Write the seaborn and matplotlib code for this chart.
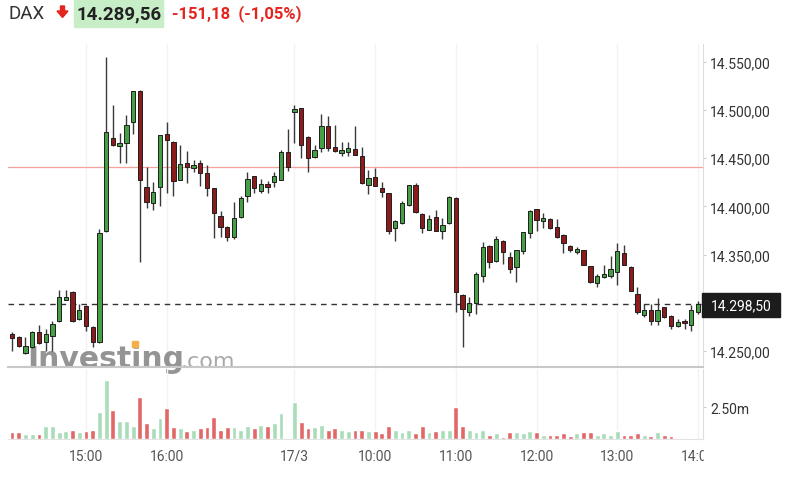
import matplotlib.pyplot as plt
import matplotlib.patches as mpatches
import seaborn as sns
import pandas as pd

# 5-minute DAX candles, 16/3 14:05 .. 17:30, then 17/3 09:00 .. 13:55
open_ = [14267.6, 14264.8, 14247.5, 14253.7, 14270.0, 14258.9, 14265.8, 14280.7, 14303.2, 14311.5,
         14283.1, 14297.0, 14275.2, 14259.6, 14374.1, 14470.9, 14462.9, 14465.4, 14487.1, 14520.0,
         14420.4, 14403.1, 14419.7, 14474.7, 14467.1, 14427.7, 14445.0, 14439.4, 14445.0, 14434.6,
         14419.0, 14390.3, 14378.9, 14368.5, 14388.6, 14411.1, 14431.1, 14416.3, 14423.2, 14424.9,
         14427.7, 14456.7, 14498.2, 14502.0, 14472.3, 14450.8, 14460.2, 14483.7, 14461.9, 14455.0,
         14456.0, 14459.5, 14452.6, 14422.5, 14430.8, 14419.0, 14413.8, 14377.2, 14382.4, 14401.7,
         14422.1, 14392.1, 14375.8, 14388.6, 14374.8, 14382.4, 14408.7, 14308.4, 14290.0, 14299.4,
         14328.1, 14359.2, 14343.6, 14364.4, 14347.1, 14336.7, 14353.3, 14372.0, 14397.2, 14384.8,
         14386.9, 14378.9, 14370.6, 14359.2, 14352.3, 14354.7, 14337.8, 14320.1, 14326.4, 14328.1,
         14331.5, 14351.6, 14337.4, 14309.1, 14287.3, 14292.5, 14281.4, 14295.2, 14286.6, 14276.2,
         14281.4, 14277.2, 14290.0]
high = [14270.0, 14265.5, 14264.1, 14270.5, 14277.2, 14272.8, 14281.4, 14313.6, 14313.6, 14312.0,
        14298.7, 14297.5, 14275.7, 14376.5, 14554.6, 14505.1, 14475.7, 14494.8, 14519.8, 14520.5,
        14440.5, 14425.6, 14474.2, 14487.1, 14467.6, 14463.6, 14457.1, 14448.4, 14448.4, 14442.9,
        14419.5, 14394.8, 14379.4, 14404.2, 14411.1, 14435.3, 14431.6, 14428.4, 14426.6, 14435.3,
        14458.8, 14480.2, 14505.1, 14502.5, 14472.8, 14463.6, 14495.8, 14493.4, 14484.4, 14466.4,
        14466.4, 14483.0, 14461.2, 14437.7, 14439.4, 14424.9, 14414.3, 14385.6, 14405.9, 14422.6,
        14423.9, 14392.6, 14391.4, 14396.6, 14387.6, 14410.5, 14409.2, 14308.9, 14305.6, 14331.5,
        14362.7, 14359.7, 14368.9, 14364.9, 14352.3, 14355.2, 14373.5, 14396.0, 14397.7, 14393.1,
        14387.4, 14386.9, 14371.1, 14359.7, 14357.5, 14355.2, 14338.3, 14329.8, 14339.1, 14348.1,
        14361.6, 14359.9, 14337.9, 14316.0, 14298.7, 14298.7, 14304.9, 14295.7, 14287.1, 14283.1,
        14283.1, 14297.7, 14302.1]
low = [14250.3, 14254.5, 14247.0, 14253.0, 14257.5, 14250.3, 14250.3, 14280.0, 14302.5, 14280.4,
       14282.5, 14271.0, 14253.7, 14257.9, 14373.5, 14463.0, 14445.0, 14445.0, 14475.0, 14342.6,
       14398.3, 14396.6, 14400.7, 14413.8, 14411.1, 14427.2, 14424.2, 14436.0, 14421.4, 14411.1,
       14366.8, 14368.5, 14364.4, 14366.1, 14388.0, 14404.8, 14413.5, 14413.5, 14413.5, 14420.4,
       14427.2, 14437.0, 14465.4, 14450.1, 14436.0, 14450.3, 14456.0, 14457.8, 14456.0, 14452.6,
       14451.9, 14453.1, 14423.4, 14412.8, 14420.9, 14410.0, 14371.3, 14364.4, 14382.0, 14400.7,
       14393.3, 14372.0, 14375.3, 14374.3, 14366.1, 14381.9, 14290.7, 14253.7, 14286.6, 14288.3,
       14321.9, 14335.7, 14341.9, 14340.2, 14330.8, 14321.9, 14350.6, 14367.2, 14374.8, 14377.5,
       14376.7, 14367.3, 14351.6, 14352.3, 14350.6, 14339.0, 14320.7, 14316.7, 14325.3, 14325.3,
       14318.7, 14339.0, 14312.0, 14288.3, 14284.9, 14277.2, 14277.2, 14284.4, 14272.8, 14274.5,
       14272.8, 14271.0, 14288.3]
close = [14263.1, 14255.5, 14255.5, 14270.0, 14258.2, 14267.2, 14277.9, 14306.3, 14306.3, 14281.4,
         14292.5, 14276.2, 14258.9, 14372.0, 14477.5, 14463.6, 14465.7, 14484.4, 14519.3, 14427.7,
         14404.2, 14415.2, 14473.7, 14469.2, 14425.9, 14443.9, 14440.5, 14442.5, 14434.2, 14418.7,
         14392.7, 14378.2, 14367.8, 14387.9, 14409.0, 14428.4, 14418.7, 14423.2, 14419.7, 14431.1,
         14456.7, 14441.2, 14501.0, 14464.0, 14450.1, 14458.4, 14483.0, 14460.2, 14457.8, 14458.4,
         14460.5, 14453.6, 14423.9, 14429.1, 14421.4, 14414.5, 14374.1, 14385.1, 14403.5, 14422.1,
         14393.8, 14377.5, 14386.9, 14374.8, 14380.6, 14410.0, 14310.8, 14293.5, 14299.4, 14329.8,
         14358.2, 14342.6, 14366.1, 14352.3, 14335.0, 14354.7, 14373.0, 14395.5, 14386.2, 14387.9,
         14377.2, 14367.8, 14361.6, 14354.7, 14355.7, 14339.5, 14321.2, 14328.1, 14329.8, 14335.0,
         14353.3, 14339.5, 14312.5, 14290.0, 14292.5, 14281.4, 14292.5, 14284.9, 14276.2, 14280.4,
         14278.6, 14292.5, 14298.5]
volume_m = [0.53, 0.53, 0.42, 0.42, 0.42, 1.00, 1.00, 0.53, 0.63, 0.74,
            0.53, 0.63, 0.74, 2.11, 4.68, 2.32, 1.42, 1.42, 1.05, 3.29,
            1.24, 0.84, 1.63, 2.42, 0.92, 0.84, 0.63, 0.71, 0.84, 0.92,
            1.71, 0.74, 0.92, 0.92, 0.74, 1.03, 0.84, 1.13, 1.03, 1.26,
            2.03, 0.08, 2.89, 1.32, 0.84, 0.92, 1.13, 0.74, 0.84, 0.74,
            0.63, 0.74, 0.74, 0.63, 0.63, 0.45, 1.03, 0.74, 0.53, 0.74,
            0.45, 1.03, 0.53, 0.63, 0.71, 0.74, 2.50, 1.03, 0.74, 0.53,
            0.74, 0.34, 0.45, 0.13, 0.53, 0.53, 0.45, 0.63, 0.53, 0.32,
            0.32, 0.32, 0.45, 0.24, 0.45, 0.53, 0.53, 0.34, 0.45, 0.32,
            0.63, 0.34, 0.34, 0.45, 0.34, 0.24, 0.53, 0.34, 0.24, 0.05,
            0.0, 0.0, 0.0]

tick_pos = [11, 23, 42, 54, 66, 78, 90, 102]
tick_labels = ['15:00', '16:00', '17/3', '10:00', '11:00', '12:00', '13:00', '14:00']
price_ticks = [14250, 14350, 14400, 14450, 14500, 14550]
prev_close = 14440.74
last_price = 14289.56
change = -151.18
change_pct = -1.05


def eu(v):
    return f"{v:,.2f}".replace(',', ' ').replace('.', ',').replace(' ', '.')


sns.set_style('white')
plt.rcParams['font.family'] = ['Roboto', 'DejaVu Sans']

W, H = 791, 485
fig = plt.figure(figsize=(W / 100, H / 100), dpi=100)


def fx(x):
    return x / W


def fy(y):
    return 1 - y / H


ax = fig.add_axes([fx(8), fy(368), (703 - 8) / W, (368 - 45) / H])
vax = fig.add_axes([fx(8), fy(440), (703 - 8) / W, (440 - 370) / H], facecolor='none')

idx = list(range(len(open_)))
up = [c >= o for o, c in zip(open_, close)]

# faint hour grid
for p in tick_pos:
    ax.axvline(p, color='#f3f3f3', lw=1, zorder=0)
    vax.axvline(p, color='#f3f3f3', lw=1, zorder=0)

ax.axhline(prev_close, color='#f3a29c', lw=0.9, zorder=1)
ax.axhline(close[-1], color='#333333', lw=1, ls=(0, (4, 3.5)), zorder=1)

# candles
ax.vlines(idx, low, high, color='#3a3a3a', lw=1, zorder=2)
bottoms = [min(o, c) for o, c in zip(open_, close)]
heights = [max(abs(c - o), 0.9) for o, c in zip(open_, close)]
ax.bar(idx, heights, bottom=bottoms, width=0.64,
       color=['#45a045' if u else '#8c1b1b' for u in up],
       edgecolor='#1e1e1e', linewidth=0.7, zorder=3)

# volume
df = pd.DataFrame({'idx': idx, 'vol': volume_m,
                   'dir': ['up' if u else 'down' for u in up]})
sns.barplot(data=df, x='idx', y='vol', hue='dir',
            palette={'up': '#a9dcb9', 'down': '#e26868'},
            native_scale=True, width=0.72, dodge=False, errorbar=None,
            saturation=1, legend=False, ax=vax)

for a in (ax, vax):
    a.set_xlim(-0.6, 102.75)
    a.set_xlabel('')
    a.set_ylabel('')
    a.yaxis.tick_right()
    a.spines['left'].set_visible(False)
    a.spines['top'].set_visible(False)
    a.spines['right'].set_color('#dddddd')
    a.tick_params(axis='y', length=2.5, color='#cccccc', labelsize=10,
                  labelcolor='#333333', pad=2.5)

ax.set_ylim(14233.3, 14568.4)
ax.set_yticks(price_ticks)
ax.set_yticklabels([eu(v) for v in price_ticks])
ax.set_xticks([])
ax.spines['bottom'].set_color('#c8c8c8')
ax.spines['bottom'].set_linewidth(1.5)

vax.set_ylim(0, 5.52)
vax.set_yticks([2.5])
vax.set_yticklabels(['2.50m'])
vax.set_xticks(tick_pos)
vax.set_xticklabels(tick_labels)
vax.spines['bottom'].set_color('#e3e3e3')
vax.tick_params(axis='x', length=4, color='#cccccc', labelsize=10,
                labelcolor='#555555', pad=3)

# watermark
ax.text(fx(27), fy(368), 'Investing', transform=fig.transFigure,
        family='DejaVu Sans', weight='bold', fontsize=21.5, color='#858585',
        alpha=0.88, va='baseline', zorder=1, clip_on=False)
ax.text(fx(181), fy(368), '.com', transform=fig.transFigure,
        family='DejaVu Sans', fontsize=16, color='#a0a0a0',
        alpha=0.9, va='baseline', zorder=1, clip_on=False)
ax.add_patch(mpatches.Rectangle((fx(132), fy(348)), 6 / W, 6 / H,
                                transform=fig.transFigure, color='#f6b04a',
                                zorder=1.5, clip_on=False))

# header
fig.patches.append(mpatches.Rectangle((fx(74), fy(28)), (163 - 74) / W, 28 / H,
                                      transform=fig.transFigure,
                                      color='#c8eec8', zorder=1))
arrow = [(60.5, 7), (64.5, 7), (64.5, 12), (68, 12), (62.5, 18.5), (57, 12), (60.5, 12)]
fig.patches.append(mpatches.Polygon([(fx(x), fy(y)) for x, y in arrow],
                                    closed=True, transform=fig.transFigure,
                                    color='#e3241f', zorder=2))
fig.text(fx(8), fy(14), 'DAX', fontsize=13.5, color='#333333', va='center')
fig.text(fx(77), fy(14), eu(last_price), fontsize=13.5, weight='bold',
         color='#222222', va='center', zorder=3)
fig.text(fx(172), fy(14), f"{eu(change)}  ({eu(change_pct)}%)",
         fontsize=12, weight='bold', color='#e3241f', va='center')

# current price tag
fig.patches.append(mpatches.Rectangle((fx(702), fy(318)), 78 / W, 24 / H,
                                      transform=fig.transFigure,
                                      color='#1c1c1c', zorder=5))
fig.text(fx(741), fy(306), eu(close[-1]), fontsize=10, color='white',
         ha='center', va='center', zorder=6)

# clip the last time label at the plot edge
fig.patches.append(mpatches.Rectangle((fx(704), fy(475)), (W - 704) / W, 28 / H,
                                      transform=fig.transFigure,
                                      color='white', zorder=5))

fig.savefig('out.png', dpi=100)
